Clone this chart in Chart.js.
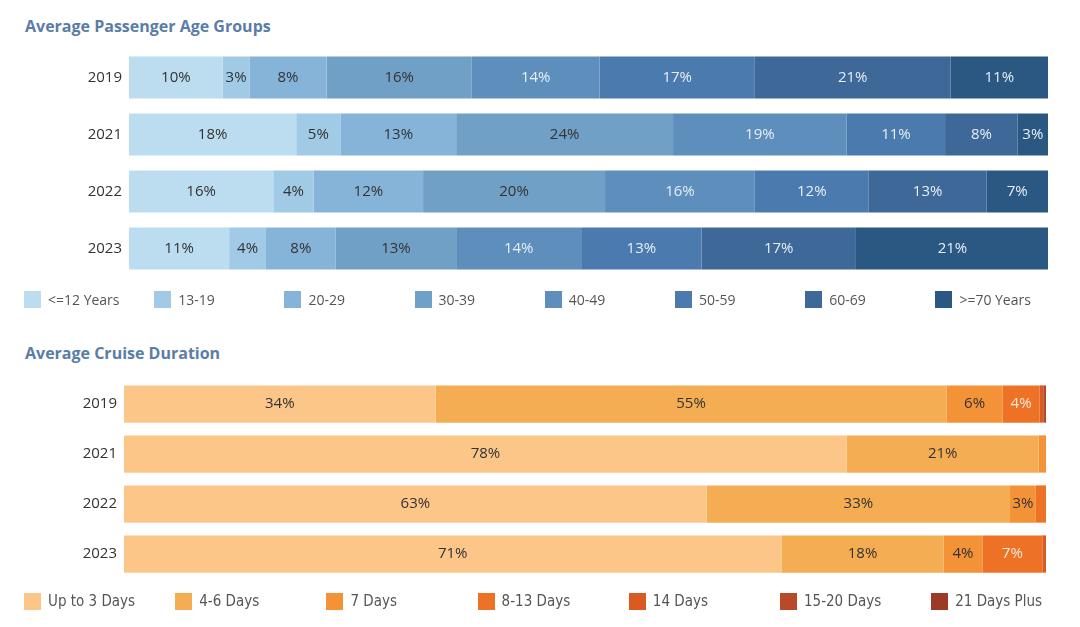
<!DOCTYPE html>
<html>
<head>
<meta charset="utf-8">
<script src="https://cdn.jsdelivr.net/npm/chart.js@4"></script>
<style>
  html, body { margin:0; padding:0; background:#fff; }
  body { width:1080px; height:627px; position:relative; overflow:hidden; font-family:"Open Sans", sans-serif; }
  .title { position:absolute; left:25px; font-weight:bold; font-size:16px; color:#5a7da8; }
  .box { position:absolute; left:0; width:1080px; }
  .legend { position:absolute; left:0; width:1080px; height:20px; }
  .item { position:absolute; top:0; display:flex; align-items:center; font-size:14px; color:#555; white-space:nowrap; }
  .sw { width:17px; height:17px; margin-right:7px; }
  .legend2 .item { font-family:"Liberation Sans Narrow","DejaVu Sans Condensed",sans-serif; font-size:15px; color:#555; }
</style>
</head>
<body>
<div class="title" style="top:15px">Average Passenger Age Groups</div>
<div class="box" style="top:33px;height:260px"><canvas id="c1"></canvas></div>
<div class="legend" id="lg1" style="top:290px"></div>
<div class="title" style="top:342px">Average Cruise Duration</div>
<div class="box" style="top:363px;height:232px"><canvas id="c2"></canvas></div>
<div class="legend legend2" id="lg2" style="top:592px"></div>
<script>
// ---------- Data ----------
const years = ['2019', '2021', '2022', '2023'];

const ageGroups = ['<=12 Years', '13-19', '20-29', '30-39', '40-49', '50-59', '60-69', '>=70 Years'];
const ageLE12  = [10.2, 18.2, 15.7, 10.9];
const age13_19 = [2.9, 4.8, 4.4, 4.0];
const age20_29 = [8.4, 12.6, 11.9, 7.6];
const age30_39 = [15.8, 23.6, 19.8, 13.1];
const age40_49 = [13.9, 18.9, 16.3, 13.6];
const age50_59 = [16.9, 10.7, 12.4, 13.1];
const age60_69 = [21.3, 7.9, 12.8, 16.8];
const ageGE70  = [10.6, 3.3, 6.7, 21.0];

const durations = ['Up to 3 Days', '4-6 Days', '7 Days', '8-13 Days', '14 Days', '15-20 Days', '21 Days Plus'];
const durUpTo3  = [33.8, 78.4, 63.2, 71.3];
const dur4_6    = [55.4, 20.8, 32.9, 17.6];
const dur7      = [6.1, 0.8, 2.8, 4.2];
const dur8_13   = [4.0, 0.0, 1.1, 6.5];
const dur14     = [0.4, 0.0, 0.0, 0.4];
const dur15_20  = [0.2, 0.0, 0.0, 0.0];
const dur21Plus = [0.1, 0.0, 0.0, 0.0];

// ---------- Styles ----------
const ageColors = ['#bcdcf0', '#a0cae5', '#86b4d9', '#71a0c6', '#5e8fbc', '#4b7bae', '#3d6898', '#2b5783'];
const ageLabelColors = ['#333', '#333', '#333', '#333', '#e6eef6', '#e6eef6', '#e6eef6', '#e6eef6'];
const durColors = ['#fdc689', '#f4ad52', '#f39236', '#ee7226', '#d95b22', '#b94a27', '#9c3a25'];
const durLabelColors = ['#333', '#333', '#333', '#fbe9dc', '#fbe9dc', '#fbe9dc', '#fbe9dc'];

const ageSeries = [ageLE12, age13_19, age20_29, age30_39, age40_49, age50_59, age60_69, ageGE70];
const durSeries = [durUpTo3, dur4_6, dur7, dur8_13, dur14, dur15_20, dur21Plus];

const labelPlugin = {
  id: 'segLabels',
  afterDatasetsDraw(chart) {
    const ctx = chart.ctx;
    ctx.save();
    ctx.font = '15px "Open Sans", sans-serif';
    ctx.textAlign = 'center';
    ctx.textBaseline = 'middle';
    chart.data.datasets.forEach((ds, di) => {
      const meta = chart.getDatasetMeta(di);
      meta.data.forEach((bar, i) => {
        const v = ds.data[i];
        if (v >= 2.5) {
          ctx.fillStyle = ds.labelColor;
          ctx.fillText(Math.round(v) + '%', (bar.x + bar.base) / 2, bar.y);
        }
      });
    });
    ctx.restore();
  }
};

function makeChart(id, names, series, colors, labelColors, left, right, barPct) {
  return new Chart(document.getElementById(id), {
    type: 'bar',
    data: {
      labels: years,
      datasets: series.map((d, i) => ({
        label: names[i], data: d, backgroundColor: colors[i], labelColor: labelColors[i],
        borderWidth: 0, categoryPercentage: 1, barPercentage: barPct
      }))
    },
    options: {
      indexAxis: 'y',
      responsive: true, maintainAspectRatio: false, animation: false,
      layout: { padding: { left: 0, right: right, top: 0, bottom: 0 } },
      plugins: { legend: { display: false }, tooltip: { enabled: false } },
      scales: {
        x: { stacked: true, min: 0, max: 100, display: false },
        y: {
          stacked: true,
          grid: { display: false, drawTicks: false },
          border: { display: false },
          ticks: { color: '#333', font: { size: 15, family: '"Open Sans", sans-serif' }, padding: 7 },
          afterFit(scale) { scale.width = left; }
        }
      }
    },
    plugins: [labelPlugin]
  });
}

makeChart('c1', ageGroups, ageSeries, ageColors, ageLabelColors, 129, 32, 0.74);
makeChart('c2', durations, durSeries, durColors, durLabelColors, 124, 34, 0.745);

function makeLegend(id, names, colors, x0, step) {
  const el = document.getElementById(id);
  names.forEach((n, i) => {
    const d = document.createElement('div');
    d.className = 'item';
    d.style.left = (x0 + i * step) + 'px';
    const s = document.createElement('div');
    s.className = 'sw';
    s.style.background = colors[i];
    d.appendChild(s);
    d.appendChild(document.createTextNode(n));
    el.appendChild(d);
  });
}
makeLegend('lg1', ageGroups, ageColors, 24, 130.2);
makeLegend('lg2', durations, durColors, 24, 151.2);
</script>
</body>
</html>
